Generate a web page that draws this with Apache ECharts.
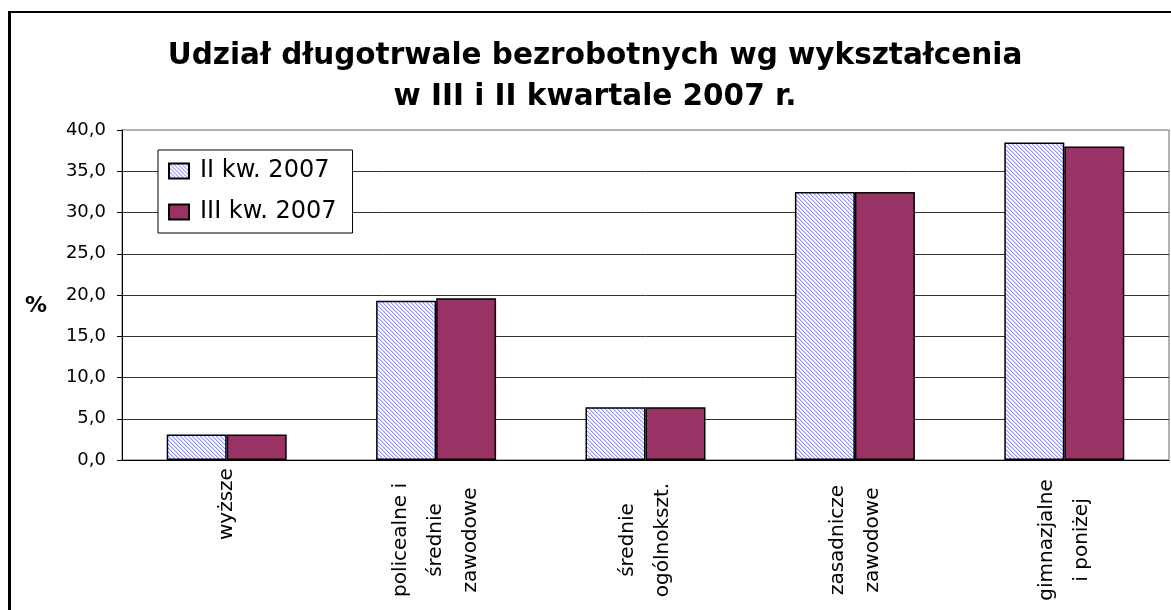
<!DOCTYPE html>
<html lang="pl">
<head>
    <meta charset="UTF-8">
    <title>Udział długotrwale bezrobotnych</title>
    <script src="https://cdn.jsdelivr.net/npm/echarts@6/dist/echarts.min.js"></script>
</head>
<style>
    *{
        margin: 0;
        padding: 0;
    }
    html , body{
        overflow: hidden;
        height: 100%;
        width: 100%;
        background: #fff;
    }
    .contain{
        width: 1171px;
        height: 610px;
    }
</style>
<body>
<div class="contain"></div>
<script>
    // kategorie wykształcenia
    let categories = ['wyższe', 'policealne i\nśrednie\nzawodowe', 'średnie\nogólnokszt.', 'zasadnicze\nzawodowe', 'gimnazjalne\ni poniżej'];
    let seriesNames = ['II kw. 2007', 'III kw. 2007'];
    let kw2 = [3.1, 19.3, 6.4, 32.5, 38.5];
    let kw3 = [3.1, 19.6, 6.4, 32.5, 38.0];
    let yMin = 0, yMax = 40, yStep = 5;

    let font = 'DejaVu Sans';

    // kreskowanie jak w Excelu
    function hatch() {
        let c = document.createElement('canvas');
        c.width = 4; c.height = 4;
        let g = c.getContext('2d');
        g.fillStyle = '#fff';
        g.fillRect(0, 0, 4, 4);
        g.fillStyle = '#9494ff';
        for (let i = 0; i < 4; i++) g.fillRect(i, i, 1, 1);
        g.fillStyle = '#d4d4ff';
        for (let i = 0; i < 4; i++) g.fillRect((i + 1) % 4, i, 1, 1);
        return c;
    }

    let chart = echarts.init(document.querySelector('.contain'));

    // jednowierszowa etykieta bliżej osi
    let catData = categories.map((c, i) => i === 0
        ? {value: c, textStyle: {align: 'left'}}
        : c);

    let option = {
        animation: false,
        backgroundColor: '#fff',
        title: {
            text: 'Udział długotrwale bezrobotnych wg wykształcenia\nw III i II kwartale 2007 r.',
            left: 595,
            textAlign: 'center',
            top: 36,
            padding: 0,
            textStyle: {
                fontFamily: font,
                fontWeight: 'bold',
                fontSize: 29.5,
                lineHeight: 41,
                color: '#000'
            }
        },
        graphic: [
            {type: 'line', shape: {x1: 9.5, y1: 11, x2: 9.5, y2: 620}, style: {stroke: '#000', lineWidth: 3}},
            {type: 'line', shape: {x1: 8, y1: 12, x2: 1180, y2: 12}, style: {stroke: '#000', lineWidth: 2}}
        ],
        legend: {
            data: seriesNames,
            orient: 'vertical',
            left: 158,
            top: 150,
            padding: [9, 16, 9, 10],
            itemGap: 17,
            itemWidth: 20,
            itemHeight: 15,
            icon: 'rect',
            backgroundColor: '#fff',
            borderColor: '#000',
            borderWidth: 1,
            textStyle: {
                fontFamily: font,
                fontSize: 24,
                lineHeight: 24,
                color: '#000',
                padding: [0, 0, 0, 6]
            }
        },
        grid: {
            left: 122,
            right: 2,
            top: 130,
            bottom: 150,
            outerBoundsMode: 'none',
            containLabel: false,
            show: true,
            borderColor: '#999',
            borderWidth: 1.5
        },
        xAxis: {
            type: 'category',
            data: catData,
            axisLine: {lineStyle: {color: '#000', width: 1}},
            axisTick: {length: 6, lineStyle: {color: '#000'}},
            axisLabel: {
                interval: 0,
                rotate: 90,
                align: 'center',
                verticalAlign: 'middle',
                margin: 80,
                fontFamily: font,
                fontSize: 20,
                lineHeight: 35,
                color: '#000'
            }
        },
        yAxis: {
            type: 'value',
            min: yMin,
            max: yMax,
            interval: yStep,
            name: '%',
            nameLocation: 'middle',
            nameRotate: 0,
            nameGap: 75,
            nameTextStyle: {
                fontFamily: font,
                fontWeight: 'bold',
                fontSize: 22,
                color: '#000',
                verticalAlign: 'top'
            },
            axisLine: {show: true, lineStyle: {color: '#000', width: 1}},
            axisTick: {show: true, length: 5, lineStyle: {color: '#000'}},
            axisLabel: {
                margin: 16,
                fontFamily: font,
                fontSize: 18,
                color: '#000',
                formatter: v => v.toFixed(1).replace('.', ',')
            },
            splitLine: {
                show: true,
                showMaxLine: false,
                lineStyle: {color: '#333', width: 1}
            }
        },
        series: [
            {
                name: seriesNames[0],
                type: 'bar',
                data: kw2,
                barGap: '0%',
                barCategoryGap: '42.7%',
                itemStyle: {
                    color: {image: hatch(), repeat: 'repeat'},
                    borderColor: '#000',
                    borderWidth: 1.5
                }
            },
            {
                name: seriesNames[1],
                type: 'bar',
                data: kw3,
                barGap: '0%',
                barCategoryGap: '42.7%',
                itemStyle: {
                    color: '#993366',
                    borderColor: '#000',
                    borderWidth: 1.5
                }
            }
        ]
    };

    chart.setOption(option);
</script>
</body>
</html>
